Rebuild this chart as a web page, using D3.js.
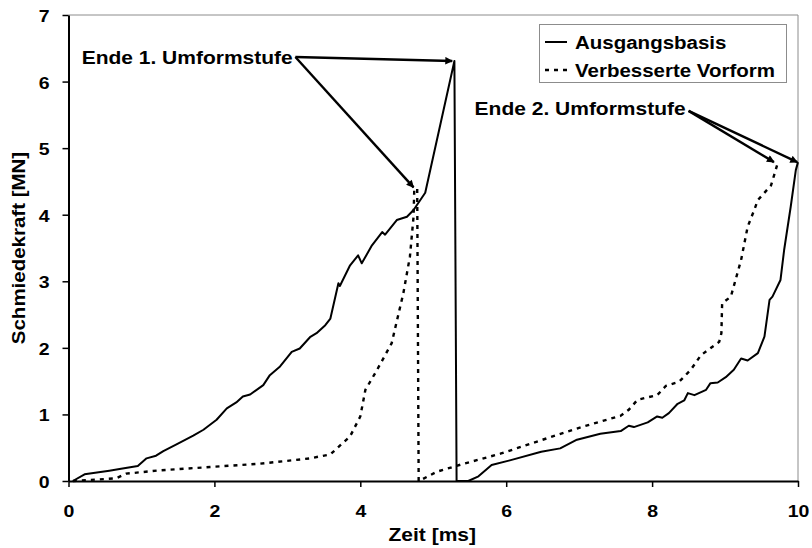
<!DOCTYPE html>
<html>
<head>
<meta charset="utf-8">
<script src="https://cdn.jsdelivr.net/npm/d3@7"></script>
<style>
  body { margin: 0; background: #fff; }
  text { font-family: "Liberation Sans", Arial, sans-serif; font-weight: bold; fill: #000; }
</style>
</head>
<body>
<script>
const w = 812;
const h = 548;
const margin = { top: 15, right: 14, bottom: 67, left: 68.5 };
const SQ = 0.88; // the picture text looks squashed vertically

// Ausgangsbasis (solid)
const timeA = [0.06, 0.22, 0.56, 0.70, 0.95, 1.07, 1.20, 1.30, 1.50, 1.71, 1.85, 2.03, 2.17, 2.30, 2.39, 2.49,
  2.67, 2.76, 2.90, 3.06, 3.17, 3.31, 3.40, 3.52, 3.59, 3.70, 3.72, 3.86, 3.97, 4.02, 4.16, 4.30, 4.34,
  4.50, 4.64, 4.73, 4.89, 5.29, 5.32, 5.48, 5.62, 5.80, 6.05, 6.48, 6.74, 6.97, 7.29, 7.57, 7.68, 7.75,
  7.94, 8.07, 8.14, 8.23, 8.35, 8.44, 8.49, 8.58, 8.74, 8.80, 8.90, 9.01, 9.12, 9.22, 9.31, 9.45, 9.54,
  9.61, 9.65, 9.76, 9.81, 9.90, 9.97, 10.0];
const forceA = [0, 0.10, 0.155, 0.18, 0.225, 0.34, 0.38, 0.45, 0.56, 0.68, 0.77, 0.92, 1.09, 1.18, 1.27, 1.30,
  1.44, 1.59, 1.72, 1.94, 1.99, 2.16, 2.22, 2.34, 2.44, 2.97, 2.93, 3.24, 3.39, 3.27, 3.54, 3.74, 3.70,
  3.92, 3.97, 4.07, 4.33, 6.31, 0, 0, 0.07, 0.24, 0.31, 0.44, 0.49, 0.62, 0.71, 0.75, 0.83, 0.81,
  0.88, 0.97, 0.95, 1.02, 1.16, 1.21, 1.32, 1.29, 1.37, 1.47, 1.48, 1.56, 1.67, 1.84, 1.81, 1.92, 2.17,
  2.72, 2.77, 3.02, 3.47, 4.12, 4.67, 4.79];

// Verbesserte Vorform (dotted)
const timeV = [0.06, 0.65, 0.79, 1.25, 1.94, 2.62, 3.06, 3.31, 3.59, 3.68, 3.86, 4.00, 4.07, 4.23, 4.43, 4.59,
  4.68, 4.73, 4.74, 4.78, 4.80, 4.84, 5.05, 5.42, 5.92, 6.61, 7.06, 7.57, 7.68, 7.80, 8.07, 8.19, 8.37,
  8.53, 8.67, 8.92, 8.95, 8.96, 9.08, 9.22, 9.31, 9.40, 9.45, 9.63, 9.68, 9.72];
const forceV = [0, 0.04, 0.11, 0.16, 0.21, 0.26, 0.31, 0.34, 0.40, 0.49, 0.67, 0.97, 1.37, 1.67, 2.07, 2.82,
  3.37, 3.97, 4.39, 4.39, 0, 0.02, 0.14, 0.26, 0.41, 0.66, 0.82, 0.98, 1.07, 1.22, 1.29, 1.43, 1.49,
  1.67, 1.89, 2.09, 2.22, 2.67, 2.77, 3.32, 3.82, 4.07, 4.22, 4.44, 4.62, 4.77];

const seriesNames = ["Ausgangsbasis", "Verbesserte Vorform"];
const xTicks = [0, 2, 4, 6, 8, 10];
const yTicks = [0, 1, 2, 3, 4, 5, 6, 7];

// annotations in data units: label anchor, arrow start, arrow tips
const notes = [
  { label: "Ende 1. Umformstufe", lx: 0.18, ly: 6.27, anchor: "start", from: [3.11, 6.37], tips: [[5.26, 6.31], [4.73, 4.41]] },
  { label: "Ende 2. Umformstufe", lx: 8.46, ly: 5.50, anchor: "end", from: [8.50, 5.56], tips: [[9.67, 4.79], [9.99, 4.79]] }
];

const x = d3.scaleLinear().domain([0, 10]).range([margin.left, w - margin.right]);
const y = d3.scaleLinear().domain([0, 7]).range([h - margin.bottom, margin.top]);

const svg = d3.select("body").append("svg").attr("width", w).attr("height", h);

svg.append("defs").append("marker")
  .attr("id", "arr")
  .attr("viewBox", "0 0 10 10")
  .attr("refX", 9).attr("refY", 5)
  .attr("markerWidth", 4.2).attr("markerHeight", 3.2)
  .attr("markerUnits", "strokeWidth")
  .attr("orient", "auto")
  .append("path").attr("d", "M0,0 L10,5 L0,10 z").attr("fill", "#000");

// frame top/right (grey)
svg.append("path")
  .attr("d", `M${x(0)},${y(7)} H${x(10)} V${y(0)}`)
  .attr("fill", "none").attr("stroke", "#8c8c8c").attr("stroke-width", 1);

const line = d3.line().x(d => x(d[0])).y(d => y(d[1]));
const dataA = timeA.map((t, i) => [t, forceA[i]]);
const dataV = timeV.map((t, i) => [t, forceV[i]]);

svg.append("path").datum(dataV)
  .attr("d", line).attr("fill", "none").attr("stroke", "#000")
  .attr("stroke-width", 2.4).attr("stroke-dasharray", "4,5");
svg.append("path").datum(dataA)
  .attr("d", line).attr("fill", "none").attr("stroke", "#000")
  .attr("stroke-width", 2).attr("stroke-linejoin", "round");

// axes
const xAxis = svg.append("g")
  .attr("transform", `translate(0,${y(0)})`)
  .call(d3.axisBottom(x).tickValues(xTicks).tickSize(6).tickSizeOuter(0).tickFormat(d3.format("d")));
const yAxis = svg.append("g")
  .attr("transform", `translate(${x(0)},0)`)
  .call(d3.axisLeft(y).tickValues(yTicks).tickSize(6).tickSizeOuter(0).tickFormat(d3.format("d")));

[xAxis, yAxis].forEach(g => {
  g.select(".domain").attr("stroke", "#000").attr("stroke-width", 2);
  g.selectAll(".tick line").attr("stroke", "#000").attr("stroke-width", 1.5);
  g.selectAll(".tick text").attr("font-size", null).style("font-size", "19.5px").attr("font-family", null);
});
xAxis.selectAll(".tick text").attr("y", null).attr("dy", null)
  .attr("transform", `translate(0,36) scale(1,${SQ})`);
yAxis.selectAll(".tick text").attr("x", null).attr("dy", null)
  .attr("transform", `translate(-19,6.5) scale(1,${SQ})`);

// axis titles
svg.append("text")
  .attr("transform", `translate(${x(5) - 1},541) scale(1,${SQ})`)
  .attr("text-anchor", "middle").style("font-size", "21px").text("Zeit [ms]");
svg.append("text")
  .attr("transform", `translate(25,${y(3.5)}) scale(${SQ},1) rotate(-90)`)
  .attr("text-anchor", "middle").style("font-size", "20.5px").text("Schmiedekraft [MN]");

// annotations
notes.forEach(n => {
  svg.append("text")
    .attr("transform", `translate(${x(n.lx)},${y(n.ly)}) scale(1,${SQ})`)
    .attr("text-anchor", n.anchor).style("font-size", "21px").text(n.label);
  n.tips.forEach(t => {
    svg.append("line")
      .attr("x1", x(n.from[0])).attr("y1", y(n.from[1]))
      .attr("x2", x(t[0])).attr("y2", y(t[1]))
      .attr("stroke", "#000").attr("stroke-width", 2.4)
      .attr("marker-end", "url(#arr)");
  });
});

// legend
const lg = svg.append("g");
lg.append("rect").attr("x", 539.5).attr("y", 24.5).attr("width", 247).attr("height", 58)
  .attr("fill", "#fff").attr("stroke", "#8c8c8c").attr("stroke-width", 1);
seriesNames.forEach((name, i) => {
  const ly = 42 + i * 28;
  lg.append("line").attr("x1", 545).attr("x2", i ? 572 : 567).attr("y1", ly).attr("y2", ly)
    .attr("stroke", "#000").attr("stroke-width", i ? 2.4 : 2)
    .attr("stroke-dasharray", i ? "4,5" : null);
  lg.append("text")
    .attr("transform", `translate(575,${ly + 6.5}) scale(1,${SQ})`)
    .style("font-size", "20.5px").text(name);
});
</script>
</body>
</html>
